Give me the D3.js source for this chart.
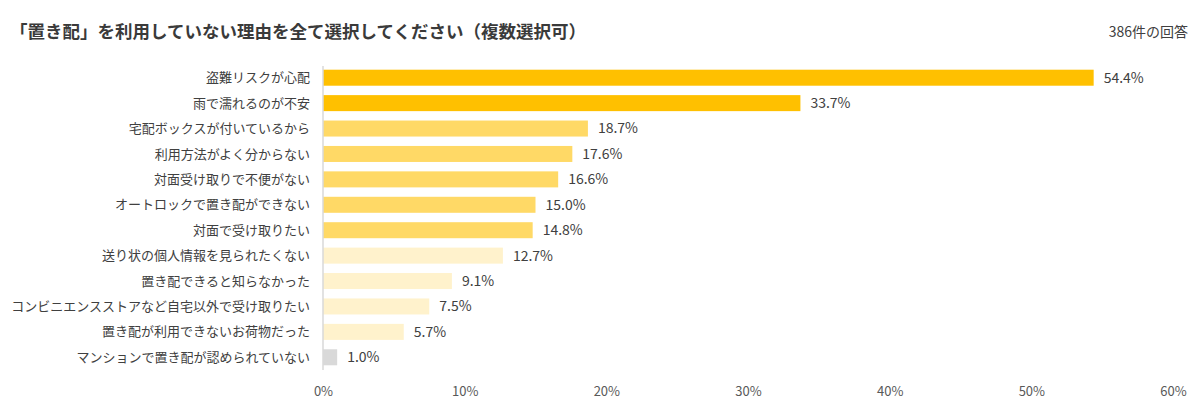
<!DOCTYPE html>
<html><head><meta charset="utf-8">
<script src="https://cdn.jsdelivr.net/npm/d3@7"></script>
<style>
body{margin:0;background:#fff;}
svg{display:block;font-family:"Noto Sans CJK JP","Noto Sans",sans-serif;}
</style></head>
<body><svg id="c" width="1200" height="407"></svg>
<script>
const categories = ["盗難リスクが心配","雨で濡れるのが不安","宅配ボックスが付いているから","利用方法がよく分からない","対面受け取りで不便がない","オートロックで置き配ができない","対面で受け取りたい","送り状の個人情報を見られたくない","置き配できると知らなかった","コンビニエンスストアなど自宅以外で受け取りたい","置き配が利用できないお荷物だった","マンションで置き配が認められていない"];
const values = [54.4,33.7,18.7,17.6,16.6,15.0,14.8,12.7,9.1,7.5,5.7,1.0];
const groups = [0,0,1,1,1,1,1,2,2,2,2,3];
const groupColors = ["#FFC000","#FFD966","#FFF2CC","#D9D9D9"];
const ticks = [0,10,20,30,40,50,60];
const title = "「置き配」を利用していない理由を全て選択してください（複数選択可）";
const note = "386件の回答";

const svg = d3.select("#c");
const x = d3.scaleLinear().domain([0,60]).range([323,1173]);
const y = d3.scaleBand().domain(categories).range([65,370]).paddingInner(0.37).paddingOuter(0.185);

svg.append("text").attr("x",10).attr("y",38).attr("font-size",17.5).attr("font-weight",600)
  .attr("fill","#3a3a3a").text(title);
svg.append("text").attr("x",1188).attr("y",37).attr("text-anchor","end").attr("font-size",14)
  .attr("fill","#404040").text(note);

const rows = categories.map((c,i)=>({c,v:values[i],g:groups[i]}));

svg.append("g").selectAll("rect").data(rows).join("rect")
  .attr("x",x(0)).attr("y",d=>y(d.c)).attr("width",d=>x(d.v)-x(0)).attr("height",y.bandwidth())
  .attr("fill",d=>groupColors[d.g]);

svg.append("g").selectAll("text").data(rows).join("text")
  .attr("x",d=>x(d.v)+10).attr("y",d=>y(d.c)+y.bandwidth()/2).attr("dy","0.35em")
  .attr("font-size",14).attr("fill","#404040").text(d=>d.v.toFixed(1)+"%");

svg.append("g").selectAll("text").data(rows).join("text")
  .attr("x",310).attr("y",d=>y(d.c)+y.bandwidth()/2).attr("dy","0.35em").attr("text-anchor","end")
  .attr("font-size",13).attr("fill","#404040").text(d=>d.c);

svg.append("line").attr("x1",x(0)).attr("x2",x(0)).attr("y1",66).attr("y2",370)
  .attr("stroke","#D9D9D9").attr("stroke-width",1.5);

const xa = d3.axisBottom(x).tickValues(ticks).tickFormat(d=>d+"%").tickSize(0);
const ga = svg.append("g").attr("transform","translate(0,384)").call(xa);
ga.select(".domain").remove();
ga.selectAll("text").attr("font-size",13).attr("fill","#595959")
  .attr("font-family","\"Noto Sans CJK JP\",\"Noto Sans\",sans-serif");
</script></body></html>
